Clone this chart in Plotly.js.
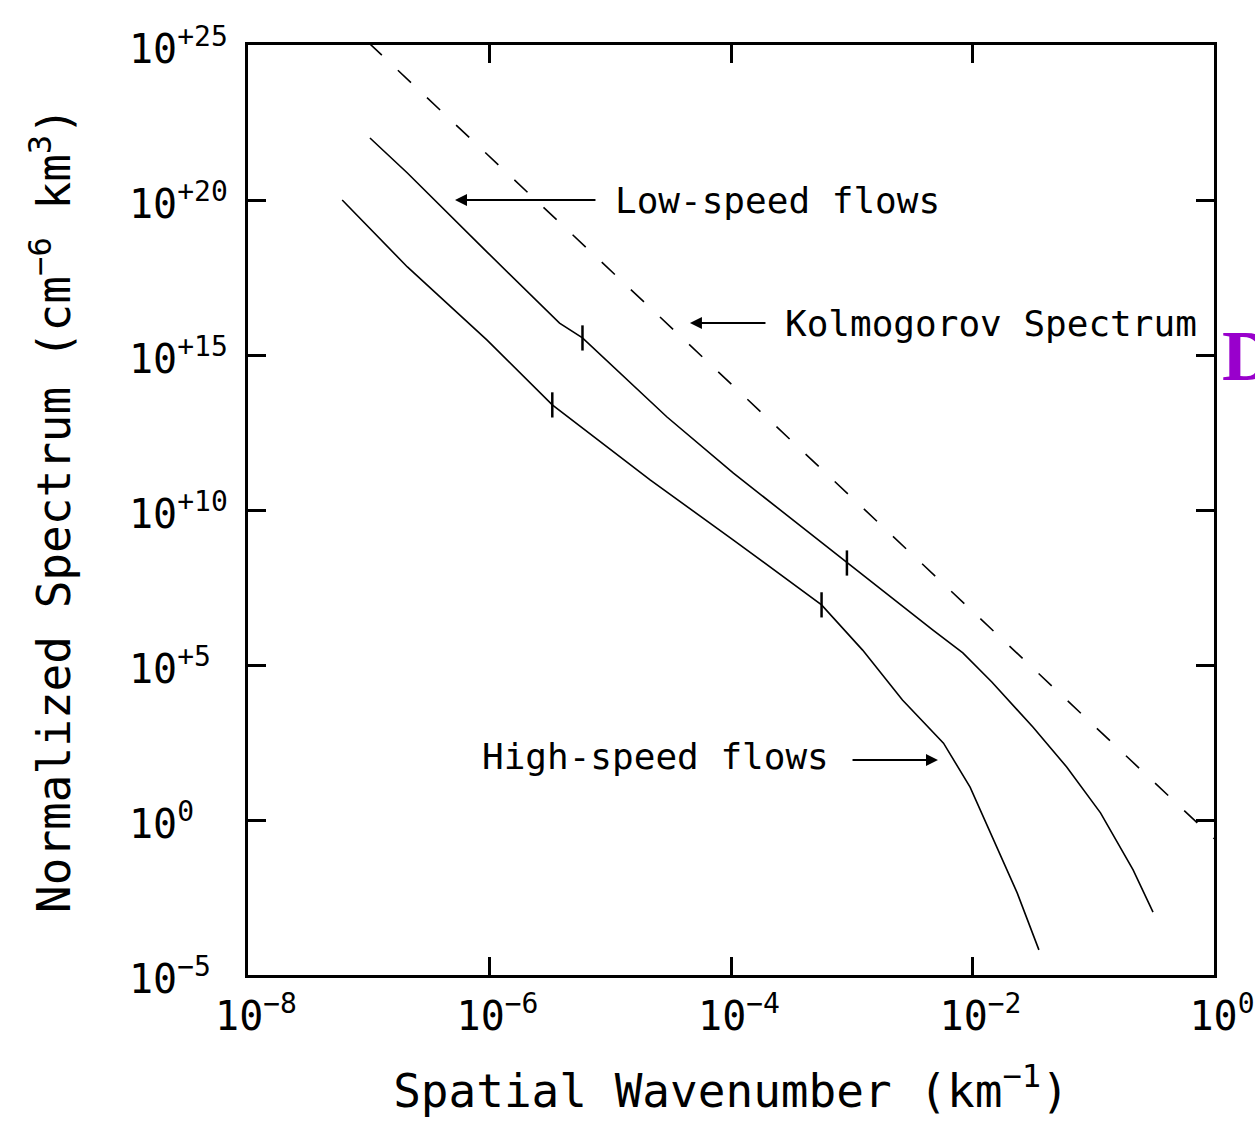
<!DOCTYPE html>
<html>
<head>
<meta charset="utf-8">
<script src="https://cdn.plot.ly/plotly-3.0.1.min.js"></script>
<style>html,body{margin:0;padding:0;background:#fff;overflow:hidden}</style>
</head>
<body>
<div id="chart" style="width:1255px;height:1125px"></div>
<script>
// ---- data (log10 values) ----
var kolmoLogK = [-7.0, 0.0];
var kolmoLogS = [25.07, -0.6];

var lowLogK = [-6.99, -6.68, -6.02, -5.42, -5.23, -4.53, -3.98, -3.04, -2.33, -2.08, -1.84, -1.50, -1.22, -0.94, -0.67, -0.505];
var lowLogS = [22.0, 20.87, 18.32, 16.03, 15.55, 13.0, 11.19, 8.29, 6.13, 5.39, 4.45, 3.0, 1.71, 0.23, -1.61, -2.97];

var highLogK = [-7.22, -6.68, -6.02, -5.48, -4.67, -3.98, -3.25, -2.91, -2.58, -2.24, -2.02, -1.80, -1.63, -1.45];
var highLogS = [20.0, 17.84, 15.48, 13.39, 10.97, 9.03, 6.94, 5.48, 3.87, 2.48, 1.06, -0.87, -2.35, -4.19];

// break marks on the curves
var markLogK = [-5.23, -3.04, -5.48, -3.25];
var markLogS = [15.55, 8.29, 13.39, 6.94];

var xTickExp = [-8, -6, -4, -2, 0];
var xTickText = ["10<sup>\u22128</sup>", "10<sup>\u22126</sup>", "10<sup>\u22124</sup>", "10<sup>\u22122</sup>", "10<sup>0</sup>"];
var yTickExp = [25, 20, 15, 10, 5, 0, -5];
var yTickText = ["10<sup>+25</sup>", "10<sup>+20</sup>", "10<sup>+15</sup>", "10<sup>+10</sup>", "10<sup>+5</sup>", "10<sup>0</sup>", "10<sup>\u22125</sup>"];

function pw(a) { return a.map(function (v) { return Math.pow(10, v); }); }

var FONT = "DejaVu Sans Mono, Liberation Mono, monospace";

var traces = [
  {x: pw(kolmoLogK), y: pw(kolmoLogS), mode: "lines", line: {color: "#000", width: 1.6, dash: "18px,22px"}, showlegend: false, hoverinfo: "skip"},
  {x: pw(lowLogK), y: pw(lowLogS), mode: "lines", line: {color: "#000", width: 1.6}, showlegend: false, hoverinfo: "skip"},
  {x: pw(highLogK), y: pw(highLogS), mode: "lines", line: {color: "#000", width: 1.6}, showlegend: false, hoverinfo: "skip"},
  {x: pw(markLogK), y: pw(markLogS), mode: "markers", marker: {symbol: "line-ns", size: 18, line: {color: "#000", width: 2.5}}, showlegend: false, hoverinfo: "skip"}
];

var annotations = [];
yTickExp.forEach(function (e, i) {
  annotations.push({xref: "paper", yref: "y", x: -0.1253, y: e, xanchor: "left", yanchor: "middle", yshift: -1,
    text: yTickText[i], showarrow: false, font: {family: FONT, size: 40, color: "#000"}});
});

// text labels and arrows
annotations.push({xref: "x", yref: "y", x: -4.977, y: 20.0, xanchor: "left", yanchor: "middle", text: "Low-speed flows",
  showarrow: false, font: {family: FONT, size: 36, color: "#000"}});
annotations.push({xref: "x", yref: "y", axref: "x", ayref: "y", x: -6.286, y: 20.0, ax: -5.110, ay: 20.0, text: "",
  showarrow: true, arrowhead: 2, arrowsize: 1.2, arrowwidth: 2, arrowcolor: "#000"});

annotations.push({xref: "x", yref: "y", x: -3.569, y: 16.03, xanchor: "left", yanchor: "middle", text: "Kolmogorov Spectrum",
  showarrow: false, font: {family: FONT, size: 36, color: "#000"}});
annotations.push({xref: "x", yref: "y", axref: "x", ayref: "y", x: -4.340, y: 16.03, ax: -3.702, ay: 16.03, text: "",
  showarrow: true, arrowhead: 2, arrowsize: 1.2, arrowwidth: 2, arrowcolor: "#000"});

annotations.push({xref: "x", yref: "y", x: -3.17, y: 2.05, xanchor: "right", yanchor: "middle", text: "High-speed flows",
  showarrow: false, font: {family: FONT, size: 36, color: "#000"}});
annotations.push({xref: "x", yref: "y", axref: "x", ayref: "y", x: -2.286, y: 1.935, ax: -3.006, ay: 1.935, text: "",
  showarrow: true, arrowhead: 2, arrowsize: 1.2, arrowwidth: 2, arrowcolor: "#000"});

annotations.push({xref: "paper", yref: "y", x: 1.006, y: 14.97, xanchor: "left", yanchor: "middle", text: "<b>D</b>",
  showarrow: false, font: {family: "Liberation Serif, Times New Roman, serif", size: 72, color: "#9900CC"}});

var layout = {
  width: 1255, height: 1125, autosize: false,
  margin: {l: 248, r: 41, t: 45, b: 150, pad: 0},
  paper_bgcolor: "#fff", plot_bgcolor: "#fff",
  showlegend: false,
  xaxis: {
    type: "log", range: [-8, 0], tickvals: pw(xTickExp), ticktext: xTickText,
    ticks: "inside", ticklen: 18, tickwidth: 3, tickcolor: "#000",
    showline: true, linewidth: 3, linecolor: "#000", mirror: "ticks",
    showgrid: false, zeroline: false,
    tickfont: {family: FONT, size: 40, color: "#000"},
    ticklabelshift: 8, ticklabelstandoff: 4,
    title: {text: "Spatial Wavenumber (km<sup>\u22121</sup>)", font: {family: FONT, size: 46, color: "#000"}, standoff: 37}
  },
  yaxis: {
    type: "log", range: [-5, 25], tickvals: pw(yTickExp),
    showticklabels: false,
    ticks: "inside", ticklen: 18, tickwidth: 3, tickcolor: "#000",
    showline: true, linewidth: 3, linecolor: "#000", mirror: "ticks",
    showgrid: false, zeroline: false,
    title: {text: "Normalized Spectrum (cm<sup>\u22126</sup> km<sup>3</sup>)", font: {family: FONT, size: 46, color: "#000"}, standoff: 160}
  },
  annotations: annotations
};

Plotly.newPlot("chart", traces, layout, {displayModeBar: false, staticPlot: true});
</script>
</body>
</html>
